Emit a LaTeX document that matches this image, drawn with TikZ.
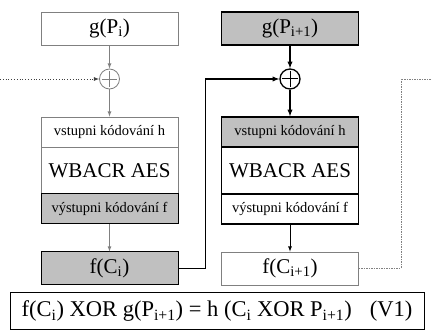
\documentclass[tikz,border=0pt]{standalone}
\usepackage{fontspec}
\setmainfont{Liberation Serif}
\definecolor{fillgray}{RGB}{192,192,192}
\definecolor{linegray}{RGB}{128,128,128}
\newcommand{\sbi}[1]{\textsubscript{#1}}

\begin{document}
\begin{tikzpicture}[x=1pt,y=-1pt,
        blk/.style={rectangle,minimum width=137pt,inner sep=0pt,fill=white},
        idle/.style={draw=linegray,line width=0.8pt},
        busy/.style={draw=black,line width=1.3pt},
        big/.style={font=\fontsize{21}{24}\selectfont},
        small/.style={font=\fontsize{14.5}{17}\selectfont},
        xor/.style={circle,minimum size=20pt,inner sep=0pt,fill=white}]
    \useasboundingbox (0,0) rectangle (432,334);

    % left block
    \node[blk,idle,big,minimum height=33pt] (gL) at (109.5,28.5) {g(P\sbi{i})};
    \node[xor,idle] (xorL) at (109.5,79) {};
    \draw[idle] ([yshift=-2.5pt]xorL.north)--([yshift=2.5pt]xorL.south) ([xshift=2.5pt]xorL.west)--([xshift=-2.5pt]xorL.east);
    \node[blk,idle,small,minimum height=30pt] (inL) at (109.5,132) {vstupni kódování h};
    \node[blk,idle,big,minimum height=47pt] (aesL) at (109.5,170.5) {WBACR AES};
    \node[blk,small,fill=fillgray,draw=black,line width=1pt,minimum height=30pt] (outL) at (109.5,209) {výstupni kódování f};
    \node[blk,big,fill=fillgray,draw=black,line width=1pt,minimum height=33pt] (fL) at (109.5,268.5) {f(C\sbi{i})};

    \coordinate (prev) at (0,79);
    \draw[draw=darkgray,dotted,line width=0.8pt,-latex] (prev)--(xorL.west);
    \draw[idle,-latex] (gL.south)--(xorL.north);
    \draw[idle,-latex] (xorL.south)--(inL.north);
    \draw[idle,-latex] (outL.south)--(fL.north);

    % right block
    \node[blk,busy,big,fill=fillgray,minimum height=33pt] (gR) at (290,28.5) {g(P\sbi{i+1})};
    \node[xor,busy] (xorR) at (290,79) {};
    \draw[busy,line width=1pt] ([yshift=-2.5pt]xorR.north)--([yshift=2.5pt]xorR.south) ([xshift=2.5pt]xorR.west)--([xshift=-2.5pt]xorR.east);
    \node[blk,busy,small,fill=fillgray,minimum height=30pt] (inR) at (290,132) {vstupni kódování h};
    \node[blk,busy,big,minimum height=47pt] (aesR) at (290,170.5) {WBACR AES};
    \node[blk,busy,small,minimum height=30pt] (outR) at (290,209) {výstupni kódování f};
    \node[blk,idle,big,minimum height=33pt] (fR) at (290,268.5) {f(C\sbi{i+1})};

    \draw[busy,-latex] (gR.south)--(xorR.north);
    \draw[busy,-latex] (xorR.south)--(inR.north);
    \draw[black,line width=0.8pt,-latex] (outR.south)--(fR.north);

    % chaining
    \draw[busy,-latex] (fL.east)--++(27,0) |- (xorR.west);
    \coordinate (next) at (432,79);
    \draw[linegray,line width=0.8pt,dash pattern=on 1.5pt off 1pt] (fR.east)--++(42,0) |- (next);

    % relation
    \node[draw,line width=1pt,font=\fontsize{22.5}{26}\selectfont,minimum width=414pt,minimum height=37pt,inner sep=0pt] (eq) at (217,311.5)
        {f(C\sbi{i}) XOR g(P\sbi{i+1}) = h (C\sbi{i} XOR P\sbi{i+1})\hspace{0.8em}(V1)};
\end{tikzpicture}
\end{document}
